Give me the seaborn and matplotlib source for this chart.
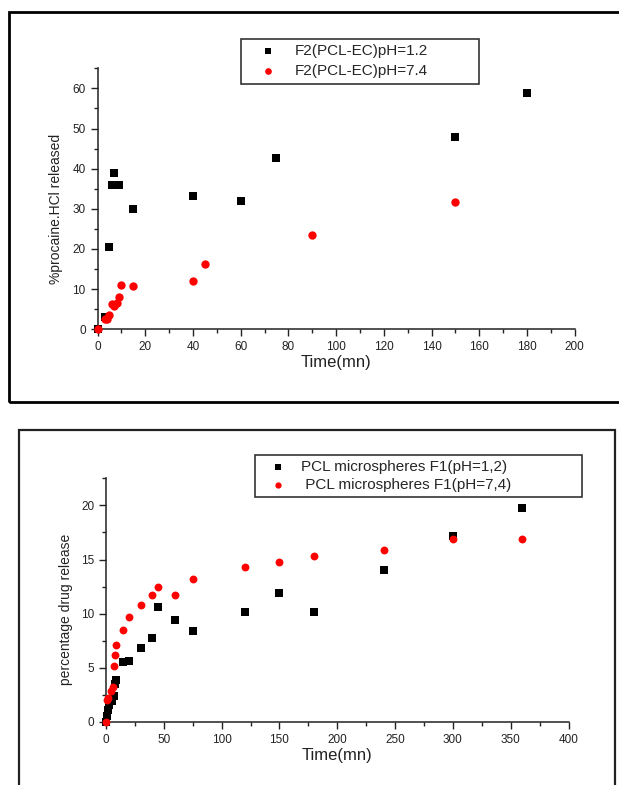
import numpy as np
import pandas as pd
import seaborn as sns
import matplotlib
matplotlib.use("Agg")
import matplotlib.pyplot as plt
from matplotlib.patches import Rectangle
from matplotlib.ticker import MultipleLocator

# ---------------- data: top panel (F2 PCL-EC) ----------------
f2_label_acid = "F2(PCL-EC)pH=1.2"
f2_label_neut = "F2(PCL-EC)pH=7.4"
f2_time_acid = [0, 3, 5, 6, 7, 8, 9, 15, 40, 60, 75, 150, 180]
f2_rel_acid = [0, 3.1, 20.5, 36.0, 39.0, 36.0, 36.0, 30.0, 33.3, 32.0, 42.7, 48.0, 58.8]
f2_time_neut = [0, 3, 4, 5, 6, 7, 8, 9, 10, 15, 40, 45, 90, 150]
f2_rel_neut = [0, 2.6, 2.6, 3.6, 6.2, 5.9, 6.5, 8.0, 11.0, 10.7, 12.1, 16.2, 23.6, 31.7]

# ---------------- data: bottom panel (PCL F1) ----------------
f1_label_acid = "PCL microspheres F1(pH=1,2)"
f1_label_neut = " PCL microspheres F1(pH=7,4)"
f1_time_acid = [0, 1, 2, 3, 5, 7, 8, 9, 15, 20, 30, 40, 45, 60, 75, 120, 150, 180, 240, 300, 360]
f1_rel_acid = [0, 0.6, 1.1, 1.6, 1.9, 2.4, 3.5, 3.9, 5.5, 5.6, 6.8, 7.8, 10.6, 9.4, 8.4,
               10.2, 11.9, 10.2, 14.0, 17.2, 19.8]
f1_time_neut = [0, 1, 2, 4, 6, 7, 8, 9, 15, 20, 30, 40, 45, 60, 75, 120, 150, 180, 240, 300, 360]
f1_rel_neut = [0, 2.0, 2.2, 2.9, 3.2, 5.2, 6.2, 7.1, 8.5, 9.7, 10.8, 11.7, 12.5, 11.7, 13.2,
               14.3, 14.8, 15.3, 15.9, 16.9, 16.9]

xlabel_text = "Time(mn)"
ylabel_top = "%procaine.HCl released"
ylabel_bottom = "percentage drug release"

sns.set_theme(style="ticks")
plt.rcParams["font.family"] = ["Liberation Sans", "DejaVu Sans"]

W, H = 619, 785
fig = plt.figure(figsize=(W / 100, H / 100), dpi=100)
fig.patch.set_facecolor("white")


def ax_rect(l, t, r, b):
    return [l / W, 1 - b / H, (r - l) / W, (b - t) / H]


def style_axes(ax, xmaj, xmin, ymaj, ymin):
    for side in ["top", "right"]:
        ax.spines[side].set_visible(False)
    for side in ["left", "bottom"]:
        ax.spines[side].set_color("#222222")
        ax.spines[side].set_linewidth(1.1)
    ax.xaxis.set_major_locator(MultipleLocator(xmaj))
    ax.xaxis.set_minor_locator(MultipleLocator(xmin))
    ax.yaxis.set_major_locator(MultipleLocator(ymaj))
    ax.yaxis.set_minor_locator(MultipleLocator(ymin))
    ax.tick_params(which="major", direction="out", length=5, width=1.0,
                   color="#222222", labelsize=8.5, labelcolor="#222222", pad=3.5)
    ax.tick_params(which="minor", direction="out", length=2.8, width=1.0,
                   color="#222222")
    ax.set_facecolor("white")
    ax.grid(False)


# ---------------- top panel ----------------
ax1 = fig.add_axes(ax_rect(97.5, 68.3, 574.8, 329.3))
df_top_a = pd.DataFrame({"t": f2_time_acid, "r": f2_rel_acid})
df_top_n = pd.DataFrame({"t": f2_time_neut, "r": f2_rel_neut})
sns.scatterplot(data=df_top_a, x="t", y="r", marker="s", color="black", s=32,
                linewidth=0, ax=ax1, label=f2_label_acid, clip_on=False, zorder=3)
sns.scatterplot(data=df_top_n, x="t", y="r", marker="o", color="#ff0000", s=36,
                linewidth=0, ax=ax1, label=f2_label_neut, clip_on=False, zorder=4)
ax1.set_xlim(0, 200)
ax1.set_ylim(0, 65)
style_axes(ax1, 20, 10, 10, 5)
ax1.set_xlabel(xlabel_text, fontsize=12, color="#222222")
ax1.set_ylabel(ylabel_top, fontsize=10, color="#222222")
ax1.xaxis.set_label_coords(0.5, -0.10)
ax1.yaxis.set_label_coords(-0.073, 0.463)
leg1 = ax1.legend(loc="upper left", bbox_to_anchor=(241 / W, 1 - 39 / H - 0.01, 238 / W, 0.01),
                  bbox_transform=fig.transFigure, mode="expand", fontsize=11,
                  frameon=True, fancybox=False, framealpha=1, edgecolor="#333333",
                  borderpad=0.35, handlelength=2.8, handletextpad=0.35,
                  labelspacing=0.4, markerscale=0.8, borderaxespad=0)
leg1.get_frame().set_linewidth(1.2)

# ---------------- bottom panel ----------------
ax2 = fig.add_axes(ax_rect(106, 478.3, 568.5, 722))
df_bot_a = pd.DataFrame({"t": f1_time_acid, "r": f1_rel_acid})
df_bot_n = pd.DataFrame({"t": f1_time_neut, "r": f1_rel_neut})
sns.scatterplot(data=df_bot_a, x="t", y="r", marker="s", color="black", s=28,
                linewidth=0, ax=ax2, label=f1_label_acid, clip_on=False, zorder=3)
sns.scatterplot(data=df_bot_n, x="t", y="r", marker="o", color="#ff0000", s=32,
                linewidth=0, ax=ax2, label=f1_label_neut, clip_on=False, zorder=4)
ax2.set_xlim(0, 400)
ax2.set_ylim(0, 22.5)
style_axes(ax2, 50, 25, 5, 2.5)
ax2.set_xlabel(xlabel_text, fontsize=12, color="#222222")
ax2.set_ylabel(ylabel_bottom, fontsize=10, color="#222222")
ax2.xaxis.set_label_coords(0.5, -0.105)
ax2.yaxis.set_label_coords(-0.071, 0.464)
leg2 = ax2.legend(loc="upper left", bbox_to_anchor=(254.6 / W, 1 - 455 / H - 0.01, 327 / W, 0.01),
                  bbox_transform=fig.transFigure, mode="expand", fontsize=11,
                  frameon=True, fancybox=False, framealpha=1, edgecolor="#333333",
                  borderpad=0.3, handlelength=2.4, handletextpad=0.35,
                  labelspacing=0.3, markerscale=0.8, borderaxespad=0)
leg2.get_frame().set_linewidth(1.2)

# ---------------- panel frames ----------------
fig.add_artist(Rectangle((9 / W, 1 - 402 / H), (650 - 9) / W, (402 - 12) / H,
                         transform=fig.transFigure, fill=False, lw=2.0,
                         edgecolor="black"))
fig.add_artist(Rectangle((19.3 / W, -0.05), (615 - 19.3) / W, (1 - 430 / H) + 0.05,
                         transform=fig.transFigure, fill=False, lw=1.6,
                         edgecolor="#222222"))

fig.savefig("out.png", dpi=100, facecolor="white")
